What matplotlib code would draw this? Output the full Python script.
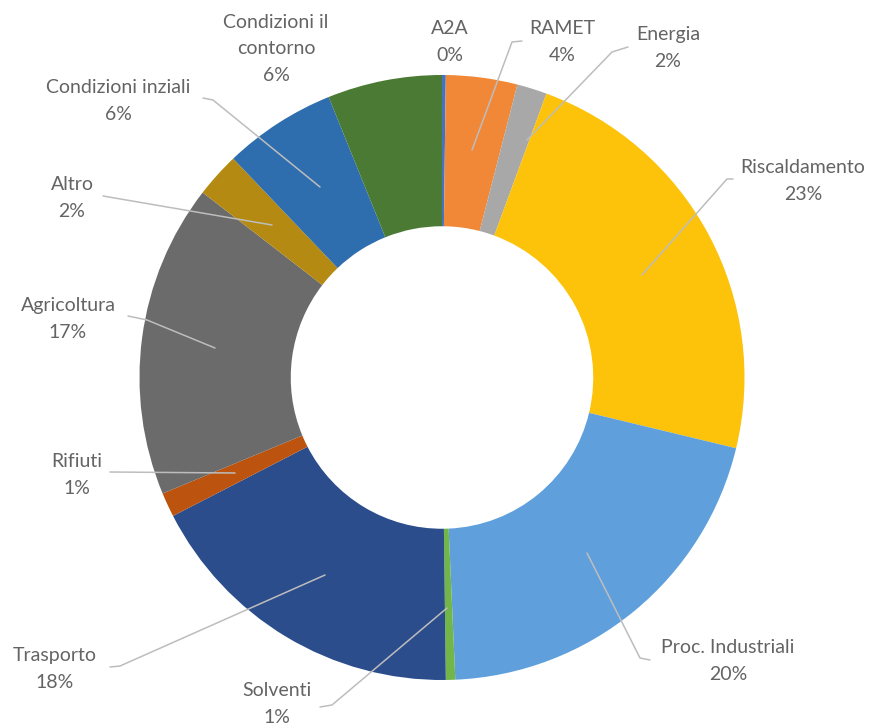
import matplotlib
matplotlib.use("Agg")
import matplotlib.pyplot as plt

# slice data (clockwise from 12 o'clock)
categories = ["A2A", "RAMET", "Energia", "Riscaldamento", "Proc. Industriali", "Solventi",
              "Trasporto", "Rifiuti", "Agricoltura", "Altro", "Condizioni inziali",
              "Condizioni il\ncontorno"]
values = [0.2, 3.8, 1.6, 23.1, 20.5, 0.5, 17.6, 1.3, 16.7, 2.4, 6.0, 6.1]
pct_labels = ["0%", "4%", "2%", "23%", "20%", "1%", "18%", "1%", "17%", "2%", "6%", "6%"]
colors = ["#4472C4", "#F08838", "#A8A8A8", "#FDC20A", "#5FA0DC", "#72B64A",
          "#2C4D8C", "#BC540F", "#6B6B6B", "#B58A12", "#2E6DAE", "#4B7A35"]

# label layout in pixel coords (text centre) and leader line vertices
label_pos = [(450, 42), (562, 42), (668, 48), (803, 181), (728, 661), (277, 704),
             (55, 669), (77, 475), (68, 319), (72, 198), (118, 101), (276, 49)]
leaders = [None,
           [(472, 150), (512, 42), (522, 41)],
           [(527, 140), (612, 52), (628, 47)],
           [(642, 275), (727, 179), (733, 179)],
           [(587, 553), (640, 658), (650, 660)],
           [(447, 608), (332, 705), (320, 707)],
           [(325, 575), (120, 666), (110, 667)],
           [(235, 473), (110, 472)],
           [(215, 348), (147, 320), (128, 316)],
           [(272, 225), (103, 196)],
           [(320, 187), (213, 100), (203, 98)],
           None]

W, H = 874, 728
cx, cy, R = 442, 377.5, 302.5

fig = plt.figure(figsize=(W / 100, H / 100), dpi=100)
ax = fig.add_axes([0, 0, 1, 1])

ax.pie(values, colors=colors, startangle=270, counterclock=True,
       center=(cx, cy), radius=R,
       wedgeprops=dict(width=R * 0.5, linewidth=0))

for pts in leaders:
    if pts is None:
        continue
    xs, ys = zip(*pts)
    ax.plot(xs, ys, color="#BDBDBD", linewidth=1.1, solid_capstyle="round")

for name, pct, (x, y) in zip(categories, pct_labels, label_pos):
    ax.text(x, y, f"{name}\n{pct}", ha="center", va="center", multialignment="center",
            fontsize=14, family="Lato", color="#646464", linespacing=1.65)

ax.set_xlim(0, W)
ax.set_ylim(H, 0)
ax.set_aspect("equal")
ax.axis("off")

plt.savefig("out.png", dpi=100)
print("Saved out.png")
